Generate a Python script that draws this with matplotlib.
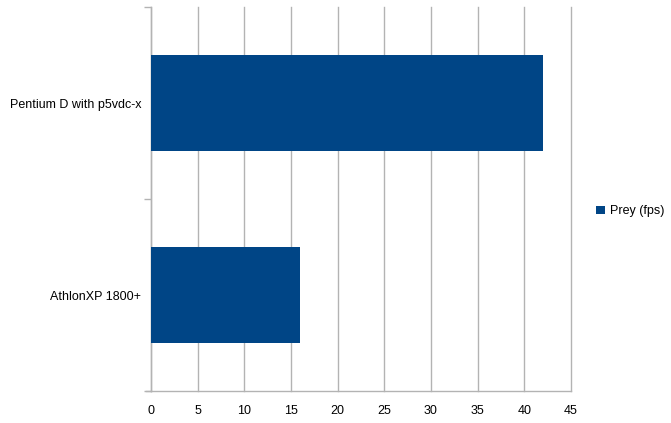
import matplotlib
matplotlib.use("Agg")
import matplotlib.pyplot as plt
import numpy as np

plt.rcParams['font.family'] = ['Liberation Sans', 'DejaVu Sans']

cpus = ["AthlonXP 1800+", "Pentium D with p5vdc-x"]
prey_fps = [16, 42]
xticks = np.arange(0, 50, 5)

bar_color = '#004586'
grid_color = '#b3b3b3'
fs = 9

fig = plt.figure(figsize=(6.71, 4.23), dpi=100)
ax = fig.add_axes([151/671, 32/423, 420/671, 384/423])

ypos = np.arange(len(cpus))
ax.barh(ypos, prey_fps, height=0.5, color=bar_color, label='Prey (fps)', zorder=3)

ax.set_xlim(0, 45)
ax.set_ylim(-0.5, len(cpus) - 0.5)
ax.set_xticks(xticks)
ax.set_xticklabels([str(t) for t in xticks], fontsize=fs)
ax.tick_params(axis='x', length=0, pad=10)

# category labels at bar centres, tick marks at category boundaries
ax.set_yticks(ypos)
ax.set_yticklabels(cpus, fontsize=fs)
ax.tick_params(axis='y', which='major', length=0, pad=7)
ax.set_yticks(np.arange(-0.5, len(cpus), 1.0), minor=True)
ax.tick_params(axis='y', which='minor', length=5, color=grid_color, width=1)

ax.xaxis.grid(True, color=grid_color, linewidth=1, zorder=0)
for gl in ax.get_xgridlines():
    gl.set_clip_on(False)
for side in ['top', 'right']:
    ax.spines[side].set_visible(False)
for side in ['left', 'bottom']:
    ax.spines[side].set_color(grid_color)
    ax.spines[side].set_linewidth(1)
ax.plot([-5/420*45, 0], [-0.5, -0.5], color=grid_color, lw=1, clip_on=False)

ax.legend(loc='center left', bbox_to_anchor=(1.033, 0.468), frameon=False,
          fontsize=fs, handlelength=0.7, handleheight=0.7, handletextpad=0.4)

fig.savefig('out.png', dpi=100)
